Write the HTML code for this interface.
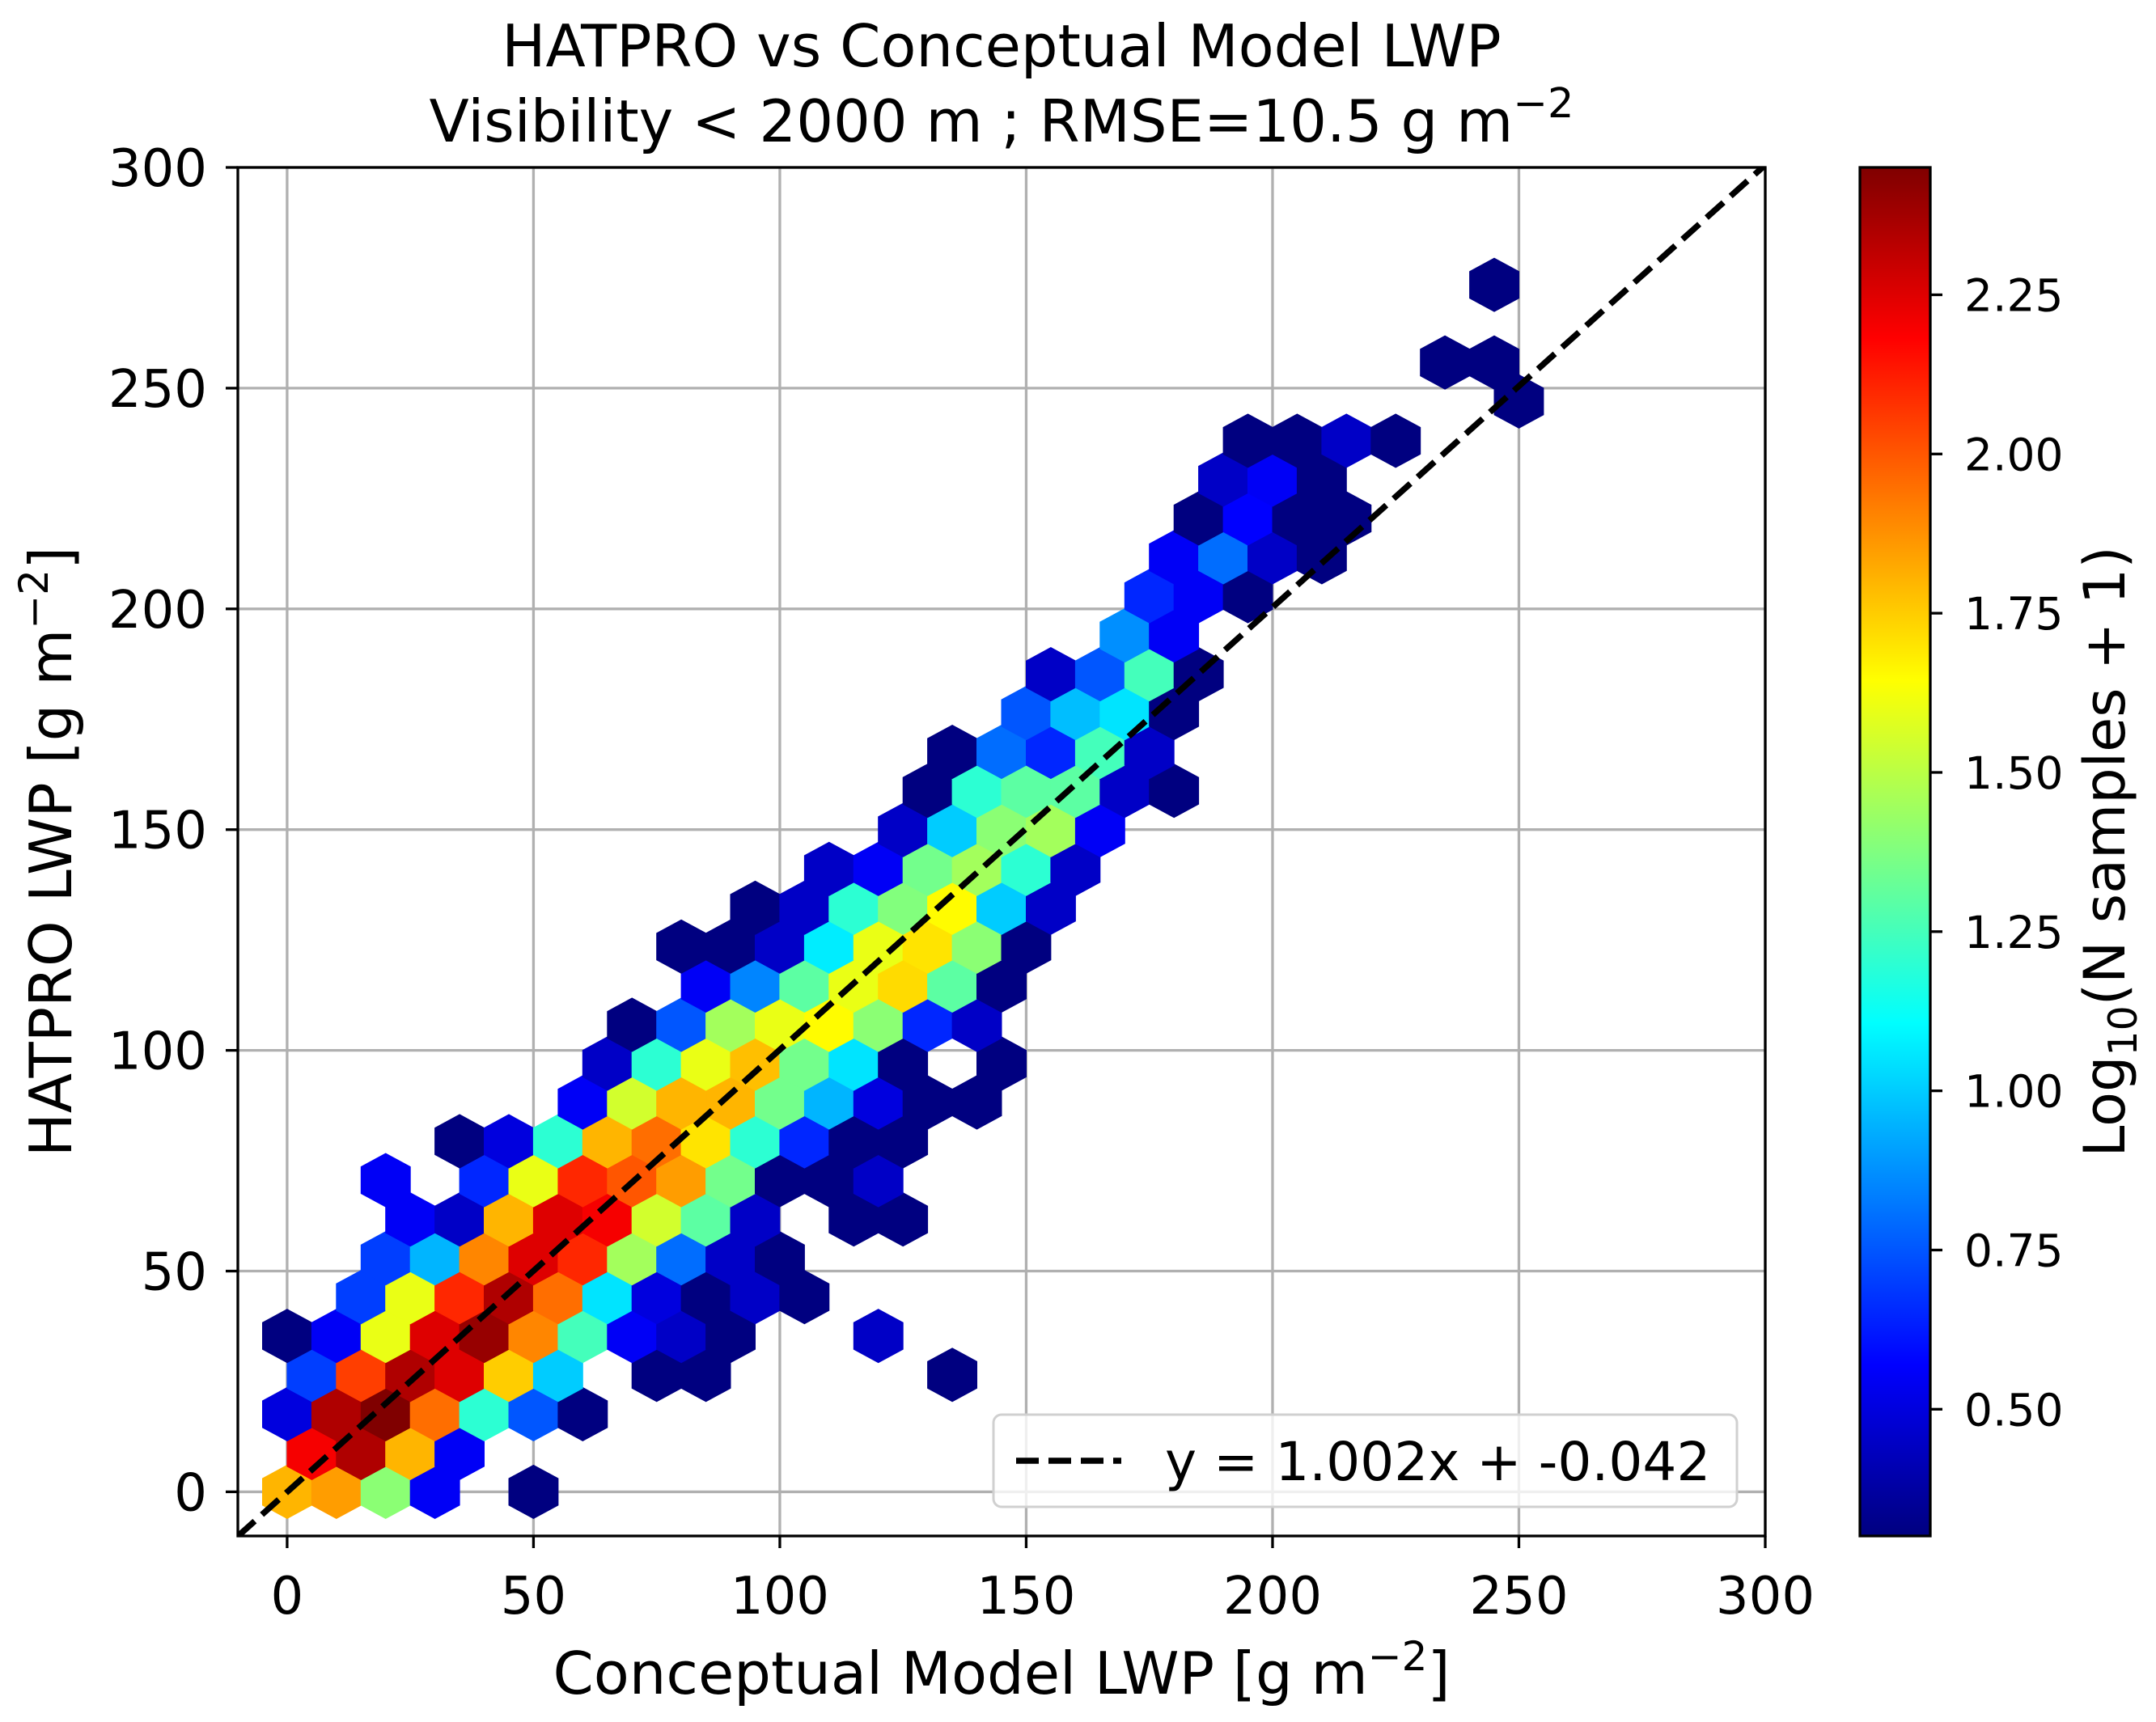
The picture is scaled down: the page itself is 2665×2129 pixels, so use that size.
<!DOCTYPE html>
<html><head><meta charset="utf-8"><style>
html,body{margin:0;padding:0;background:#fff;}
svg{display:block;font-family:"DejaVu Sans","Liberation Sans",sans-serif;}
</style></head><body>
<svg id="chart" xmlns="http://www.w3.org/2000/svg" width="2665" height="2129" viewBox="0 0 2665 2129">
<defs>
<linearGradient id="jetgrad" x1="0" y1="1" x2="0" y2="0"></linearGradient>
<clipPath id="plotclip"><rect x="294" y="207" width="1888" height="1692"/></clipPath>
</defs>
<rect x="0" y="0" width="2665" height="2129" fill="#fff"/>
<text x="1238" y="82" font-size="72" text-anchor="middle">HATPRO vs Conceptual Model LWP</text>
<text x="1238" y="175" font-size="72" text-anchor="middle">Visibility &lt; 2000 m ; RMSE=10.5 g m<tspan dy="-30" font-size="51">−2</tspan></text>
<g id="grid"></g>
<g id="hexes" clip-path="url(#plotclip)"></g>
<g id="fitline" clip-path="url(#plotclip)"></g>
<rect x="294" y="207" width="1888" height="1692" fill="none" stroke="#000" stroke-width="3.3"/>
<g id="axes"></g>
<text x="1238" y="2094" font-size="72" text-anchor="middle">Conceptual Model LWP [g m<tspan dy="-29" font-size="50">−2</tspan><tspan dy="29">]</tspan></text>
<text transform="translate(88,1053) rotate(-90)" font-size="72" text-anchor="middle">HATPRO LWP [g m<tspan dy="-29" font-size="50">−2</tspan><tspan dy="29">]</tspan></text>
<g>
<rect x="1228" y="1749" width="919" height="114" rx="10" fill="#fff" fill-opacity="0.8" stroke="#d0d0d0" stroke-width="3"/>
<line x1="1256" y1="1806" x2="1386" y2="1806" stroke="#000" stroke-width="7.5" stroke-dasharray="28,12"/>
<text x="1440" y="1830" font-size="66">y = 1.002x + -0.042</text>
</g>
<g id="cbar">
<rect x="2299" y="207" width="87" height="1692" fill="url(#jetgrad)" stroke="#000" stroke-width="3.3"/>
</g>
<text transform="translate(2626,1053) rotate(-90)" font-size="70" text-anchor="middle">Log<tspan dy="15" font-size="49">10</tspan><tspan dy="-15">(N samples + 1)</tspan></text>
</svg>
<script>
const NS='http://www.w3.org/2000/svg';
const xTicks=[0,50,100,150,200,250,300];
const yTicks=[0,50,100,150,200,250,300];
const cbarTicks=[0.50,0.75,1.00,1.25,1.50,1.75,2.00,2.25];
const fitSlope=1.002;
const fitIntercept=-0.042;
const hexX=[0,10,20,30,50, 5,15,25,35, 0,10,20,30,40,50,60, 5,15,25,35,45,55,75,85,135,
0,10,20,30,40,50,60,70,80,90,120, 15,25,35,45,55,65,75,85,95,105, 20,30,40,50,60,70,80,90,100,
25,35,45,55,65,75,85,95,115,125, 20,40,50,60,70,80,90,100,110,120, 35,45,55,65,75,85,95,105,115,125,
60,70,80,90,100,110,120,130,140, 65,75,85,95,105,115,125,145, 70,80,90,100,110,120,130,140,
85,95,105,115,125,135,145, 80,90,100,110,120,130,140,150, 95,105,115,125,135,145,155,
110,120,130,140,150,160, 125,135,145,155,165, 130,140,150,160,170,180, 135,145,155,165,175,
150,160,170,180, 155,165,175,185, 170,180, 175,185,195, 180,190,200,210, 185,195,205,215,
190,200,210, 195,205,215,225, 250, 235,245, 245];
const hexY=[0,0,0,0,0, 8.8,8.8,8.8,8.8, 17.6,17.6,17.6,17.6,17.6,17.6,17.6, 26.5,26.5,26.5,26.5,26.5,26.5,26.5,26.5,26.5,
35.3,35.3,35.3,35.3,35.3,35.3,35.3,35.3,35.3,35.3,35.3, 44.1,44.1,44.1,44.1,44.1,44.1,44.1,44.1,44.1,44.1, 52.9,52.9,52.9,52.9,52.9,52.9,52.9,52.9,52.9,
61.7,61.7,61.7,61.7,61.7,61.7,61.7,61.7,61.7,61.7, 70.6,70.6,70.6,70.6,70.6,70.6,70.6,70.6,70.6,70.6, 79.4,79.4,79.4,79.4,79.4,79.4,79.4,79.4,79.4,79.4,
88.2,88.2,88.2,88.2,88.2,88.2,88.2,88.2,88.2, 97,97,97,97,97,97,97,97, 105.8,105.8,105.8,105.8,105.8,105.8,105.8,105.8,
114.7,114.7,114.7,114.7,114.7,114.7,114.7, 123.5,123.5,123.5,123.5,123.5,123.5,123.5,123.5, 132.3,132.3,132.3,132.3,132.3,132.3,132.3,
141.1,141.1,141.1,141.1,141.1,141.1, 149.9,149.9,149.9,149.9,149.9, 158.8,158.8,158.8,158.8,158.8,158.8, 167.6,167.6,167.6,167.6,167.6,
176.4,176.4,176.4,176.4, 185.2,185.2,185.2,185.2, 194,194, 202.9,202.9,202.9, 211.7,211.7,211.7,211.7, 220.5,220.5,220.5,220.5,
229.3,229.3,229.3, 238.1,238.1,238.1,238.1, 247, 255.8,255.8, 273.4];
const hexLogN=[1.8,1.85,1.4,0.55,0.3, 2.2,2.35,1.8,0.55, 0.5,2.35,2.45,1.95,1.2,0.75,0.3, 0.7,2.05,2.35,2.25,1.75,1.0,0.3,0.3,0.3,
0.3,0.55,1.6,2.25,2.4,1.9,1.25,0.55,0.45,0.3,0.45, 0.7,1.6,2.1,2.35,1.95,1.05,0.5,0.3,0.45,0.3, 0.7,0.95,1.9,2.25,2.1,1.45,0.8,0.45,0.3,
0.55,0.45,1.8,2.25,2.2,1.55,1.3,0.45,0.3,0.3, 0.55,0.65,1.6,2.1,2.0,1.85,1.35,0.3,0.3,0.45, 0.3,0.5,1.2,1.8,1.95,1.7,1.2,0.65,0.3,0.3,
0.55,1.55,1.8,1.8,1.35,0.95,0.5,0.3,0.3, 0.45,1.2,1.6,1.78,1.35,1.05,0.3,0.3, 0.3,0.75,1.45,1.6,1.65,1.4,0.65,0.45,
0.55,0.85,1.3,1.6,1.72,1.3,0.3, 0.3,0.3,0.45,1.07,1.6,1.7,1.4,0.3, 0.3,0.45,1.2,1.38,1.65,1.0,0.45,
0.45,0.55,1.35,1.45,1.2,0.45, 0.45,1.0,1.4,1.45,0.55, 0.3,1.2,1.3,1.3,0.45,0.3, 0.3,0.8,0.65,1.25,0.45,
0.75,0.97,1.05,0.3, 0.45,0.75,1.25,0.3, 0.87,0.55, 0.65,0.55,0.3, 0.55,0.8,0.45,0.3, 0.3,0.57,0.3,0.3,
0.45,0.55,0.3, 0.3,0.3,0.45,0.3, 0.3, 0.3,0.3, 0.3];

const X0=294,X1=2182,Y0=1899,Y1=207,DMIN=-10,DMAX=300;
const CMIN=0.301,CMAX=2.45;
function sx(v){return X0+(v-DMIN)/(DMAX-DMIN)*(X1-X0);}
function sy(v){return Y0-(v-DMIN)/(DMAX-DMIN)*(Y0-Y1);}
function cy(v){return Y0-(v-CMIN)/(CMAX-CMIN)*(Y0-Y1);}
function jet(t){t=Math.max(0,Math.min(1,t));
 const r=Math.max(0,Math.min(1,1.5-Math.abs(4*t-3)));
 const g=Math.max(0,Math.min(1,1.5-Math.abs(4*t-2)));
 const b=Math.max(0,Math.min(1,1.5-Math.abs(4*t-1)));
 return 'rgb('+Math.round(r*255)+','+Math.round(g*255)+','+Math.round(b*255)+')';}
function mk(tag,attrs,parent){const e=document.createElementNS(NS,tag);for(const k in attrs)e.setAttribute(k,attrs[k]);parent.appendChild(e);return e;}

const grid=document.getElementById('grid');
xTicks.forEach(t=>{const l=mk('line',{x1:sx(t),x2:sx(t),y1:Y1,y2:Y0,stroke:'#b0b0b0','stroke-width':3.3},grid);

});
yTicks.forEach(t=>{const l=mk('line',{x1:X0,x2:X1,y1:sy(t),y2:sy(t),stroke:'#b0b0b0','stroke-width':3.3},grid);

});

const hexG=document.getElementById('hexes');
const hw=(sx(5)-sx(0)), vt=33, vs=16.5;
for(let i=0;i<hexX.length;i++){
 const cx=sx(hexX[i]), cyy=sy(hexY[i]);
 const pts=[[cx+hw,cyy-vs],[cx+hw,cyy+vs],[cx,cyy+vt],[cx-hw,cyy+vs],[cx-hw,cyy-vs],[cx,cyy-vt]].map(p=>p[0].toFixed(1)+','+p[1].toFixed(1)).join(' ');
 const c=jet((hexLogN[i]-CMIN)/(CMAX-CMIN));
 const h=mk('polygon',{points:pts,fill:c,stroke:c,'stroke-width':1},hexG);
 
 
}

const fl=document.getElementById('fitline');
const ln=mk('line',{x1:sx(DMIN),y1:sy(fitSlope*DMIN+fitIntercept),x2:sx(DMAX),y2:sy(fitSlope*DMAX+fitIntercept),stroke:'#000','stroke-width':7.5,'stroke-dasharray':'28,12'},fl);



const ax=document.getElementById('axes');
xTicks.forEach(t=>{
 const tk=mk('line',{x1:sx(t),x2:sx(t),y1:Y0,y2:Y0+15,stroke:'#000','stroke-width':3.3},ax);
 
 
 const tx=mk('text',{x:sx(t),y:1995,'font-size':64,'text-anchor':'middle'},ax);tx.textContent=t;
 
 
});
yTicks.forEach(t=>{
 const tk=mk('line',{x1:X0-15,x2:X0,y1:sy(t),y2:sy(t),stroke:'#000','stroke-width':3.3},ax);
 
 
 const tx=mk('text',{x:256,y:sy(t)+23,'font-size':64,'text-anchor':'end'},ax);tx.textContent=t;
 
 
});

const grad=document.getElementById('jetgrad');
for(let i=0;i<=64;i++){const s=mk('stop',{offset:(i/64),'stop-color':jet(i/64)},grad);}
const cb=document.getElementById('cbar');
cbarTicks.forEach(t=>{
 const tk=mk('line',{x1:2386,x2:2401,y1:cy(t),y2:cy(t),stroke:'#000','stroke-width':3.3},cb);
 
 
 const tx=mk('text',{x:2428,y:cy(t)+20,'font-size':55},cb);tx.textContent=t.toFixed(2);
 
 
});
</script>
</body></html>
